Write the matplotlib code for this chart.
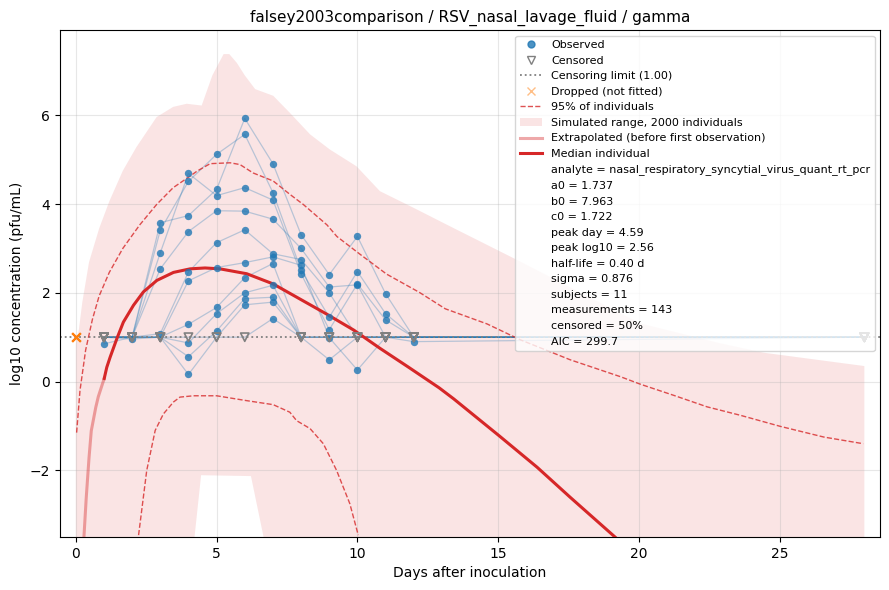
import matplotlib
matplotlib.use("Agg")
import matplotlib.pyplot as plt
import numpy as np
from matplotlib.lines import Line2D
from matplotlib.patches import Patch

# 每个受试者第1-12天的 log10 浓度, None = 低于检测限
C = None
days = [1, 2, 3, 4, 5, 6, 7, 8, 9, 10, 11, 12]
subj_vals = [
    [C, C, 3.58, 3.74, 4.33, 5.93, 4.91, 3.31, 2.41, 3.27, 1.98, C],
    [C, C, 3.41, 4.51, 5.12, 5.57, 4.26, 2.51, 1.45, 2.48, 1.53, C],
    [C, C, 2.90, 4.69, 4.19, 4.37, 4.09, 2.43, 1.17, 2.20, 1.39, C],
    [C, C, 2.54, 3.38, 3.85, 3.84, 3.66, 3.00, 2.13, 2.18, C, C],
    [C, C, 1.08, 2.47, 3.13, 3.42, 2.88, 2.75, 2.00, C, C, C],
    [C, C, C, 2.27, 2.57, 2.68, 2.81, 2.62, 0.99, 0.26, C, C],
    [C, 0.96, C, 1.29, 1.67, 2.34, 2.66, C, 0.49, C, C, C],
    [0.85, C, C, 0.87, 1.53, 2.00, 2.17, C, C, C, C, 0.90],
    [C, C, C, 0.56, 1.14, 1.87, 1.90, C, C, C, C, C],
    [C, C, C, 0.16, C, 1.73, 1.79, C, C, C, C, C],
    [C, C, C, C, C, C, 1.42, C, C, C, C, C],
]
late_day = 28               # 所有人第28天都是删失值
limit = 1.0
dropped_day = 0             # 第0天的数据没有参与拟合

# 中位个体曲线
extrap_t = [0.29, 0.37, 0.47, 0.55, 0.71, 0.80, 1.01]
extrap_v = [-3.5, -2.63, -1.72, -1.11, -0.58, -0.34, 0.07]
med_t = [1.01, 1.1, 1.22, 1.46, 1.69, 2.05, 2.40, 2.88, 3.47, 4.06, 4.59, 5.12, 6.07, 7.01,
         7.96, 8.91, 9.87, 10.8, 11.8, 12.9, 13.42, 15.03, 16.38, 17.56, 19.16]
med_v = [0.07, 0.32, 0.55, 0.97, 1.34, 1.72, 2.02, 2.28, 2.46, 2.54, 2.56, 2.54, 2.43, 2.20,
         1.86, 1.52, 1.16, 0.75, 0.33, -0.14, -0.39, -1.22, -1.93, -2.61, -3.51]

# 95% 个体范围
hi95_t = [0.03, 0.15, 0.35, 0.59, 0.83, 1.19, 1.67, 2.27, 2.87, 3.46, 4.06, 4.3, 4.77, 5.48,
          5.83, 6.3, 7.01, 7.6, 8.08, 8.92, 9.27, 10.09, 11.04, 12.2, 13.12, 14.6, 15.79,
          17.56, 19.34, 20.05, 21.23, 22.42, 23.6, 25.02, 26.56, 27.96]
hi95_v = [-1.15, -0.20, 0.71, 1.40, 1.93, 2.46, 3.0, 3.53, 3.99, 4.37, 4.63, 4.74, 4.91, 4.93,
          4.89, 4.70, 4.52, 4.22, 3.99, 3.53, 3.27, 2.87, 2.42, 2.01, 1.64, 1.30, 0.94,
          0.49, 0.11, -0.06, -0.31, -0.57, -0.76, -1.01, -1.25, -1.40]
lo95_t = [2.23, 2.52, 2.82, 3.11, 3.47, 3.7, 4.18, 5.0, 6.07, 7.01, 7.6, 7.84, 8.32, 8.79,
          9.26, 9.73, 10.03]
lo95_v = [-3.46, -2.0, -1.10, -0.73, -0.46, -0.35, -0.32, -0.32, -0.43, -0.52, -0.69, -0.88,
          -1.06, -1.40, -2.0, -2.75, -3.46]

# 模拟范围 (2000 个体)
sim_hi_t = [0.0, 0.11, 0.23, 0.47, 0.83, 1.19, 1.67, 2.15, 2.87, 3.46, 3.94, 4.47, 4.85, 5.25,
            5.45, 5.72, 6.0, 6.37, 7.01, 7.61, 8.32, 9.02, 9.97, 10.8, 11.98, 13.16, 15.67,
            20.05, 22.9, 24.43, 28.0]
sim_hi_v = [0.85, 1.17, 1.78, 2.69, 3.45, 4.06, 4.75, 5.28, 5.96, 6.19, 6.26, 6.22, 6.9, 7.38,
            7.38, 7.18, 6.9, 6.59, 6.44, 6.05, 5.57, 5.23, 4.85, 4.29, 3.92, 3.54, 2.74,
            1.31, 0.86, 0.65, 0.35]
sim_lo_t = [0.0, 4.2, 4.45, 6.22, 6.7, 28.0]
sim_lo_v = [-30, -3.6, -2.11, -2.13, -3.6, -30]   # 其余部分在坐标轴以下

info = [
    "analyte = nasal_respiratory_syncytial_virus_quant_rt_pcr",
    "a0 = 1.737", "b0 = 7.963", "c0 = 1.722",
    "peak day = 4.59", "peak log10 = 2.56", "half-life = 0.40 d",
    "sigma = 0.876", "subjects = 11", "measurements = 143",
    "censored = 50%", "AIC = 299.7",
]

fig, ax = plt.subplots(figsize=(8.89, 5.9), dpi=100)
red = "tab:red"

ax.fill(sim_hi_t + sim_lo_t[::-1], sim_hi_v + sim_lo_v[::-1],
        color=red, alpha=0.12, lw=0, zorder=0)
ax.plot(hi95_t, hi95_v, ls="--", color=red, lw=1, alpha=0.8, zorder=2)
ax.plot(lo95_t, lo95_v, ls="--", color=red, lw=1, alpha=0.8, zorder=2)

obs_x, obs_y, cen_x, cen_y = [], [], [], []
for vals in subj_vals:
    xs = list(days) + [late_day]
    ys = [limit if v is None else v for v in vals] + [limit]
    for d, v in zip(days, vals):
        if v is None:
            cen_x.append(d); cen_y.append(limit)
        else:
            obs_x.append(d); obs_y.append(v)
    cen_x.append(late_day); cen_y.append(limit)
    ax.plot(xs, ys, color="C0", lw=0.9, alpha=0.3, zorder=1.5)

ax.axhline(limit, color="gray", ls=":", lw=1.3, zorder=1.6)
ax.plot(extrap_t, extrap_v, color=red, lw=2.2, alpha=0.4, zorder=3)
ax.plot(med_t, med_v, color=red, lw=2.2, zorder=3)

ax.scatter(obs_x, obs_y, s=28, color="C0", alpha=0.8, zorder=4, lw=0)
ax.scatter(cen_x, cen_y, s=36, marker="v", facecolors="none", edgecolors="gray",
           lw=1.2, zorder=4)
ax.scatter([dropped_day] * len(subj_vals), [limit] * len(subj_vals), s=36, marker="x",
           color="C1", alpha=0.5, lw=1.3, zorder=4)

ax.set_xlim(-0.56, 28.56)
ax.set_ylim(-3.5, 7.92)
ax.set_xticks([0, 5, 10, 15, 20, 25])
ax.grid(True, alpha=0.3)
ax.set_title("falsey2003comparison / RSV_nasal_lavage_fluid / gamma", fontsize=11)
ax.set_xlabel("Days after inoculation")
ax.set_ylabel("log10 concentration (pfu/mL)")

handles = [
    Line2D([], [], ls="", marker="o", color="C0", alpha=0.8, markersize=5),
    Line2D([], [], ls="", marker="v", markerfacecolor="none", markeredgecolor="gray",
           markersize=6),
    Line2D([], [], ls=":", color="gray", lw=1.3),
    Line2D([], [], ls="", marker="x", color="C1", alpha=0.5, markersize=6),
    Line2D([], [], ls="--", color=red, lw=1, alpha=0.8),
    Patch(facecolor=red, alpha=0.12, lw=0),
    Line2D([], [], color=red, lw=2.2, alpha=0.4),
    Line2D([], [], color=red, lw=2.2),
]
labels = ["Observed", "Censored", "Censoring limit (1.00)", "Dropped (not fitted)",
          "95% of individuals", "Simulated range, 2000 individuals",
          "Extrapolated (before first observation)", "Median individual"]
for s in info:
    handles.append(Line2D([], [], ls="", marker=""))
    labels.append(s)
ax.legend(handles, labels, loc="upper right", fontsize=8)

plt.subplots_adjust(left=0.0675, right=0.99, top=0.949, bottom=0.09)
plt.savefig("out.png")
